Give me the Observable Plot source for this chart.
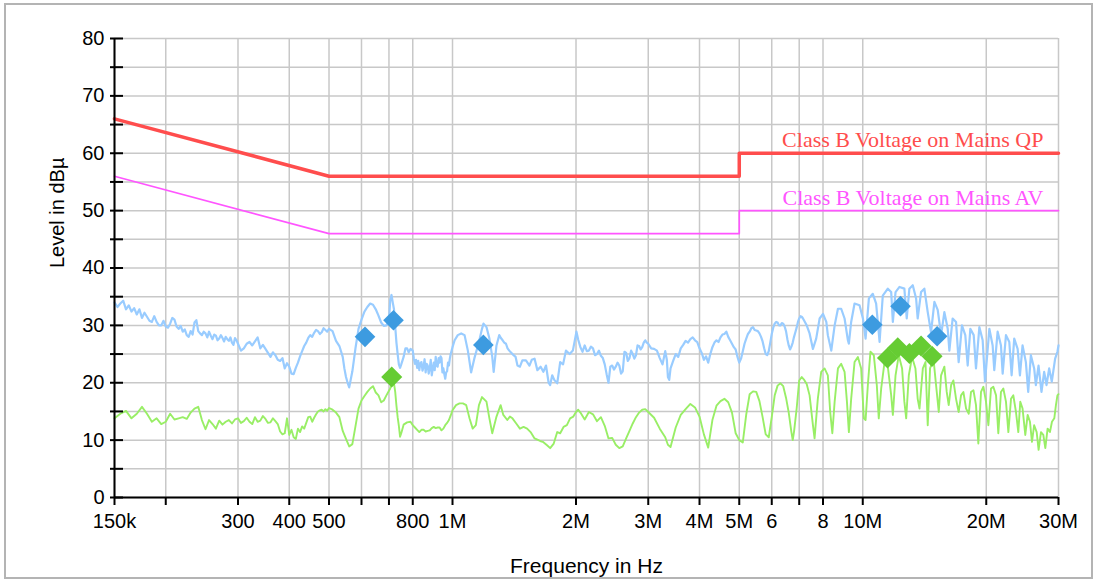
<!DOCTYPE html>
<html><head><meta charset="utf-8">
<script src="https://cdn.jsdelivr.net/npm/d3@7"></script>
<script src="https://cdn.jsdelivr.net/npm/@observablehq/plot@0.6"></script>
<style>
html,body{margin:0;padding:0;background:#fff;}
#wrap{position:relative;width:1097px;height:580px;}
#border{position:absolute;left:4px;top:3px;width:1089px;height:576px;border:2px solid #b4b4b4;box-sizing:border-box;pointer-events:none;}
</style></head><body><div id="wrap"><div id="chart"></div><div id="border"></div></div>
<script>
// frequencies in kHz, levels in dBµV
const xTicks = [150,200,300,400,500,600,700,800,1000,2000,3000,4000,5000,6000,7000,8000,10000,20000,30000];
const xTickLabels = ["150k","","300","400","500","","","800","1M","2M","3M","4M","5M","6","","8","10M","20M","30M"];
const yGrid = [0,5,10,15,20,25,30,35,40,45,50,55,60,65,70,75,80];
const yTickLabels = [0,10,20,30,40,50,60,70,80];
const xTitle = "Frequency in Hz";
const yTitle = "Level in dBµ";

const limitQP = [[150,66],[500,56],[5000,56],[5000,60],[30000,60]];
const limitAV = [[150,56],[500,46],[5000,46],[5000,50],[30000,50]];
const limitNames = ["Class B Voltage on Mains QP","Class B Voltage on Mains AV"];

const qpScan = [[150,34.0],[152.5,33.2],[155,33.8],[157.5,34.3],[160,32.8],[162.5,33.5],[165,32.4],[167.5,33.0],[170,31.9],[172.5,32.8],[175,31.3],[177.5,32.2],[180,31.5],[182.5,30.8],[185,30.6],[187.5,31.6],[190,30.6],[192.5,30.0],[195,30.0],[197.5,30.8],[200,29.8],[202.5,29.6],[205,30.3],[207.5,31.3],[210,31.0],[212.5,29.8],[215,29.4],[217.5,29.9],[220,28.9],[222.5,29.3],[225,28.3],[227.5,28.0],[230,29.0],[232.5,28.4],[235,30.5],[237.5,30.9],[240,29.0],[242.5,28.6],[245,28.3],[247.5,28.9],[250,28.6],[252.5,27.9],[255,28.9],[257.5,28.2],[260,27.6],[262.5,28.4],[265,28.2],[267.5,27.4],[270,27.7],[272.5,28.3],[275,27.8],[277.5,27.2],[280,28.0],[282.5,27.6],[285,27.3],[287.5,27.9],[290,27.0],[292.5,26.6],[295,27.8],[297.5,27.4],[300,26.8],
[305,25.6],[310,26.0],[315,26.8],[320,27.1],[325,26.5],[330,27.2],[335,27.9],[340,26.0],[345,26.6],[350,25.9],[355,25.2],[360,24.5],[365,25.3],[370,24.8],[375,24.0],[380,23.8],[385,24.3],[390,22.5],[395,23.4],[400,22.8],[405,21.6],[410,21.5],[415,22.6],[420,23.5],[425,24.6],[430,25.5],[435,26.4],[440,27.0],[445,27.8],[450,28.3],[455,28.0],[460,28.7],[465,29.2],[470,29.0],[475,28.5],[480,28.8],[485,29.5],[490,29.2],[495,28.9],
[500,29.4],[510,29.0],[520,27.3],[530,26.4],[540,24.5],[545,22.5],[550,21.0],[555,20.0],[560,19.2],[565,20.6],[570,22.0],[575,24.0],[580,26.0],[590,29.4],[600,31.0],[610,32.4],[620,33.2],[630,33.8],[640,33.6],[650,32.8],[660,31.7],[670,30.5],[680,29.9],[690,30.0],[700,30.8],[705,34.4],[710,35.3],[715,34.0],[720,32.8],[725,29.8],[730,27.0],[735,25.0],[740,23.2],[745,22.6],[750,23.2],[760,24.5],[768,26.0],[775,26.0],[782,25.3],[790,25.9],[800,25.6],[805,24.2],[810,23.3],[815,24.0],[820,22.6],[825,23.8],[830,22.2],[835,23.4],[840,23.6],[845,22.1],[850,22.8],[855,24.1],[860,21.8],[865,23.3],[870,23.0],[875,21.6],[880,22.5],[885,24.0],[890,21.3],[895,22.4],[900,23.5],[905,22.2],[910,24.5],[915,23.0],[920,22.8],[925,24.3],[930,23.5],[935,24.6],[940,24.3],[945,21.8],[950,22.5],[955,21.5],[960,20.7],[965,21.8],[970,22.0],[975,23.5],[980,23.0],[985,24.2],[990,25.0],
[1000,26.2],[1012,27.4],[1030,28.3],[1050,28.6],[1070,28.3],[1090,25.6],[1110,21.8],[1130,24.2],[1160,27.1],[1180,29.4],[1190,30.3],[1210,29.7],[1230,27.7],[1250,24.5],[1260,21.9],[1280,26.5],[1300,28.3],[1312,27.8],[1325,27.4],[1337,27.0],[1350,26.8],[1362,26.0],[1375,25.6],[1387,25.3],[1400,25.0],[1425,24.5],[1440,23.0],[1460,22.8],[1480,23.9],[1510,23.9],[1540,23.0],[1560,24.0],[1585,24.2],[1610,22.2],[1640,22.8],[1665,21.9],[1690,23.0],[1715,20.0],[1730,19.6],[1750,21.3],[1770,20.5],[1800,19.9],[1830,23.6],[1860,23.2],[1890,25.6],[1930,25.0],[1965,25.6],[2005,28.9],[2025,27.5],
[2050,26.2],[2075,25.4],[2100,26.5],[2125,25.5],[2150,25.6],[2175,26.3],[2200,26.0],[2225,24.8],[2250,25.0],[2275,25.6],[2300,24.7],[2325,24.3],[2350,23.2],[2375,21.5],[2400,20.0],[2425,22.8],[2450,23.0],[2475,22.3],[2500,22.8],[2525,23.5],[2550,23.0],[2575,21.6],[2600,22.0],[2625,25.4],[2650,25.2],[2675,23.8],[2700,24.3],[2725,25.6],[2750,25.0],[2775,24.2],[2800,24.8],[2825,26.5],[2850,26.4],[2875,25.8],[2900,26.2],[2925,27.0],[2950,27.4],[2975,27.0],[3000,26.8],[3050,26.0],[3100,25.9],[3150,25.6],[3200,24.3],[3250,23.2],[3300,25.5],[3330,24.0],[3350,21.0],[3375,20.5],[3400,22.5],[3450,23.8],[3500,25.0],[3550,24.5],[3600,26.0],[3650,26.6],[3700,27.3],[3750,27.0],[3800,27.6],[3850,27.9],[3900,27.4],[3950,27.1],[4000,26.0],[4050,25.2],[4100,24.0],[4150,24.6],[4200,23.5],[4250,25.0],[4300,26.2],[4350,27.0],[4400,27.4],[4450,27.1],[4500,27.9],[4550,28.4],[4600,28.5],[4650,28.9],[4700,28.0],[4750,27.4],[4800,26.8],[4850,26.2],[4900,25.8],[4950,24.5],[5000,23.5],[5050,24.2],[5100,25.5],[5150,26.8],[5200,27.7],[5250,28.5],[5300,28.9],[5350,29.5],[5400,29.7],[5450,29.2],[5500,29.1],[5550,29.0],[5600,28.6],[5650,28.0],[5700,27.2],[5750,26.0],[5800,25.0],[5850,24.8],[5900,25.5],[5950,27.0],[6000,28.5],[6050,29.6],[6100,30.3],[6150,30.6],[6200,30.5],[6250,30.0],[6300,30.0],[6350,30.4],[6400,30.3],[6450,29.8],[6500,29.0],[6550,27.6],[6600,26.5],[6650,25.8],[6700,26.3],[6750,27.0],[6800,28.0],[6850,28.8],[6900,29.6],[6950,30.6],[7000,31.2],[7050,31.6],[7100,31.5],[7150,31.2],[7200,30.8],[7250,30.4],[7300,30.0],
[7420,28.6],[7560,25.9],[7700,27.7],[7850,31.2],[8000,32.0],[8150,30.6],[8220,28.3],[8380,25.6],[8540,30.0],[8700,32.9],[8860,32.9],[9030,31.2],[9200,27.4],[9250,26.8],[9370,30.6],[9550,33.8],[9820,33.5],[10010,31.2],[10160,27.7],[10350,34.7],[10580,35.5],[10780,33.8],[10990,27.1],[11190,35.2],[11510,36.4],[11730,35.8],[11840,30.6],[12020,35.8],[12290,36.7],[12630,36.4],[12800,31.2],[12990,36.4],[13240,37.0],[13490,34.7],[13610,31.2],[13870,35.8],[14130,36.4],[14400,32.3],[14670,28.8],[14950,34.1],[15230,32.7],[15520,28.3],[15810,32.3],[16110,29.4],[16260,25.6],[16560,31.2],[16880,30.6],[17130,23.6],[17450,30.0],[17780,28.3],[18020,23.0],[18290,29.4],[18640,28.3],[18880,22.5],[19240,29.7],[19600,27.4],[19860,20.2],[20350,29.4],[20730,26.5],[20920,22.2],[21320,28.9],[21720,26.5],[21930,21.6],[22340,28.3],[22760,27.1],[23060,21.3],[23400,27.7],[23850,25.9],[24160,21.3],[24520,26.5],[24980,23.6],[25310,18.4],[25690,24.8],[26170,22.5],[26420,19.6],[26820,23.0],[27270,18.4],[27680,21.9],[28050,19.6],[28470,22.5],[28890,20.2],[29440,24.2],[29820,25.4],[30000,26.5]];

const avScan = [[150,13.8],[155,14.6],[160,15.1],[165,13.8],[170,14.6],[175,15.8],[180,14.6],[185,13.2],[190,13.8],[195,12.8],[200,13.2],[205,14.6],[210,13.6],[215,13.8],[220,14.0],[225,13.7],[230,14.8],[235,15.5],[240,15.8],[245,13.5],[250,11.9],[255,13.5],[260,12.8],[265,12.0],[270,13.4],[275,12.7],[280,13.2],[285,13.5],[290,12.9],[295,13.6],[300,13.8],[305,13.0],[310,13.3],[315,13.9],[320,13.2],[325,12.8],[330,14.0],[335,13.2],[340,13.4],[345,14.2],[350,13.7],[355,13.0],[360,13.1],[365,13.8],[370,13.3],[375,12.8],[380,11.5],[385,11.0],[390,11.2],[395,13.8],[400,10.9],[405,11.8],[410,10.5],[415,10.2],[420,12.0],[425,11.4],[430,12.4],[435,12.0],[440,13.0],[445,14.0],[450,14.1],[455,13.2],[460,13.9],[465,14.5],[470,15.0],[475,15.2],[480,15.3],[485,15.0],[490,15.4],[495,15.1],
[500,15.6],[510,15.3],[520,14.8],[530,14.0],[540,11.6],[550,10.2],[560,8.9],[570,9.3],[580,12.4],[590,15.5],[600,16.9],[610,17.7],[620,18.4],[630,19.0],[640,19.4],[650,18.3],[660,17.8],[670,16.6],[680,16.9],[690,17.8],[700,18.6],[705,19.0],[710,19.5],[715,19.8],[720,19.9],[725,18.4],[730,16.0],[735,14.0],[740,12.5],[745,10.6],[750,11.2],[760,12.7],[775,13.1],[790,13.2],[800,12.6],[810,12.2],[820,11.8],[830,11.4],[840,11.8],[850,11.8],[860,11.5],[870,11.6],[880,11.7],[890,12.1],[900,12.3],[910,12.1],[920,12.2],[930,12.2],[940,11.7],[950,12.0],[960,12.6],[970,13.0],[980,13.5],[990,14.3],
[1000,15.2],[1020,16.1],[1040,16.4],[1060,16.4],[1080,16.1],[1100,13.8],[1120,12.0],[1140,12.6],[1160,16.1],[1180,17.5],[1210,16.7],[1230,13.8],[1250,11.2],[1280,14.1],[1310,16.1],[1330,14.4],[1360,13.5],[1380,14.1],[1400,13.8],[1430,12.9],[1460,12.0],[1490,12.3],[1520,12.0],[1550,11.4],[1585,10.3],[1620,10.0],[1640,9.8],[1660,9.7],[1700,9.1],[1730,8.6],[1765,9.4],[1800,11.4],[1830,11.2],[1865,12.3],[1900,12.6],[1935,13.8],[1970,14.1],[2000,14.9],[2025,15.3],
[2050,14.8],[2100,13.6],[2150,14.9],[2200,14.5],[2250,13.3],[2300,14.0],[2350,12.5],[2400,10.3],[2450,10.4],[2500,9.2],[2550,8.6],[2600,8.9],[2650,10.3],[2700,11.6],[2750,12.9],[2800,14.0],[2850,14.8],[2900,15.3],[2950,15.4],[3000,14.9],[3100,13.9],[3200,12.0],[3300,10.5],[3350,9.2],[3400,8.8],[3500,12.2],[3600,14.4],[3700,15.4],[3800,16.3],[3900,15.7],[4000,14.1],[4100,11.0],[4200,8.7],[4300,13.5],[4400,16.0],[4500,16.8],[4600,17.2],[4700,16.6],[4800,14.8],[4900,11.2],[5000,10.0],[5100,9.6],[5200,14.5],[5300,18.0],[5400,18.5],[5500,18.4],[5600,16.8],[5700,14.0],[5800,11.0],[5900,10.5],[6000,14.0],[6100,17.8],[6200,19.5],[6300,19.9],[6400,19.4],[6500,17.4],[6600,14.8],[6700,11.4],[6750,10.0],[6800,11.5],[6900,15.5],[7000,20.4],[7100,21.0],[7200,20.5],[7300,19.8],
[7420,17.8],[7560,12.6],[7630,10.3],[7770,17.2],[7920,21.9],[8070,22.5],[8220,21.3],[8330,14.9],[8430,11.2],[8540,16.7],[8700,22.5],[8860,23.3],[9030,21.9],[9150,16.7],[9250,11.4],[9370,17.2],[9550,23.6],[9730,24.5],[9910,22.5],[10060,13.8],[10160,13.5],[10290,19.6],[10440,25.4],[10640,24.8],[10820,19.6],[10940,13.8],[11090,19.0],[11300,23.6],[11510,22.8],[11730,17.8],[11840,14.4],[12020,21.3],[12240,24.8],[12470,22.5],[12630,16.7],[12760,13.8],[12950,21.3],[13190,24.5],[13440,22.5],[13610,17.2],[13750,15.5],[14010,22.5],[14220,23.6],[14400,12.6],[14590,22.5],[14870,24.2],[15090,19.6],[15320,14.9],[15520,21.3],[15810,22.8],[16020,18.4],[16200,16.1],[16420,19.6],[16630,20.4],[16880,17.2],[17130,14.9],[17360,17.8],[17590,18.4],[17860,15.5],[18130,14.6],[18360,18.4],[18610,18.7],[18880,16.1],[19130,9.4],[19420,18.4],[19680,19.3],[19970,16.7],[20240,12.6],[20540,19.0],[20810,19.3],[21130,17.8],[21400,11.2],[21720,18.4],[22010,19.0],[22340,16.7],[22640,11.4],[22980,17.2],[23280,17.8],[23630,14.9],[23940,11.4],[24210,16.7],[24520,15.5],[24900,10.9],[25230,14.4],[25560,13.2],[25850,9.7],[26170,12.6],[26540,11.4],[26830,8.3],[27190,11.4],[27550,10.9],[27860,8.6],[28220,12.0],[28590,11.4],[28920,13.2],[29300,13.8],[29570,16.1],[29820,17.8],[30000,18.0]];

const qpMarks = [[612,28.0],[718,30.9],[1189,26.6],[10550,30.1],[12360,33.35],[15180,28.1]];
const avMarks = [[711,21.0],[11490,24.3],[12170,26.1],[12990,25.1],[13870,26.4],[14750,24.6]];

const xLabelMap = new Map(xTicks.map((v, i) => [v, xTickLabels[i]]));
const xLabelTicks = xTicks.filter(v => xLabelMap.get(v) !== "");
const limitLabelData = [
  {x: limitQP[limitQP.length-1][0], y: limitQP[limitQP.length-1][1], text: limitNames[0], color: "#ff4d4d"},
  {x: limitAV[limitAV.length-1][0], y: limitAV[limitAV.length-1][1], text: limitNames[1], color: "#ff55ff"}
];

const chart = Plot.plot({
  width: 1097, height: 580,
  marginLeft: 114, marginRight: 39, marginTop: 38, marginBottom: 83,
  style: {fontFamily: "'Liberation Sans', Arial, sans-serif", background: "transparent", color: "black"},
  x: {type: "log", domain: [150, 30000]},
  y: {domain: [0, 80]},
  marks: [
    Plot.ruleY(yGrid, {stroke: "#c8c8c8", strokeWidth: 1.5}),
    Plot.ruleX(xTicks, {stroke: "#c8c8c8", strokeWidth: 1.5}),
    Plot.line(avScan, {x: d => d[0], y: d => d[1], stroke: "#99ee66", strokeWidth: 1.9}),
    Plot.line(qpScan, {x: d => d[0], y: d => d[1], stroke: "#99ccff", strokeWidth: 2.2}),
    Plot.line(limitAV, {x: d => d[0], y: d => d[1], stroke: "#ff55ff", strokeWidth: 1.7}),
    Plot.line(limitQP, {x: d => d[0], y: d => d[1], stroke: "#ff4d4d", strokeWidth: 3.5}),
    Plot.text(limitLabelData, {x: "x", y: "y", text: "text", fill: d => d.color, textAnchor: "end", lineAnchor: "bottom", dx: -15, dy: -6, fontSize: 22, fontFamily: "'Liberation Serif', serif"}),
    Plot.dot(qpMarks, {x: d => d[0], y: d => d[1], symbol: "diamond2", r: 9.3, fill: "#3d9be0", stroke: null}),
    Plot.dot(avMarks, {x: d => d[0], y: d => d[1], symbol: "diamond2", r: 9.5, fill: "#66cc33", stroke: null}),
    Plot.ruleX([150], {stroke: "black", strokeWidth: 2}),
    Plot.ruleY([0], {stroke: "black", strokeWidth: 2}),
    Plot.tickY(yGrid, {y: d => d, stroke: "black", strokeWidth: 2, insetLeft: -4, insetRight: 935}),
    Plot.axisY({ticks: yTickLabels, tickSize: 0, tickPadding: 10, fontSize: 20, label: null}),
    Plot.axisX({ticks: xTicks, tickSize: 8, strokeWidth: 2, text: null, label: null}),
    Plot.text(xLabelTicks, {x: d => d, text: d => xLabelMap.get(d), frameAnchor: "bottom", lineAnchor: "top", dy: 16, fontSize: 20}),
    Plot.text([yTitle], {frameAnchor: "left", lineAnchor: "middle", dx: -57, rotate: -90, fontSize: 20}),
    Plot.text([xTitle], {frameAnchor: "bottom", lineAnchor: "bottom", dy: 75, fontSize: 21})
  ]
});
document.getElementById("chart").appendChild(chart);
</script>
</body></html>
